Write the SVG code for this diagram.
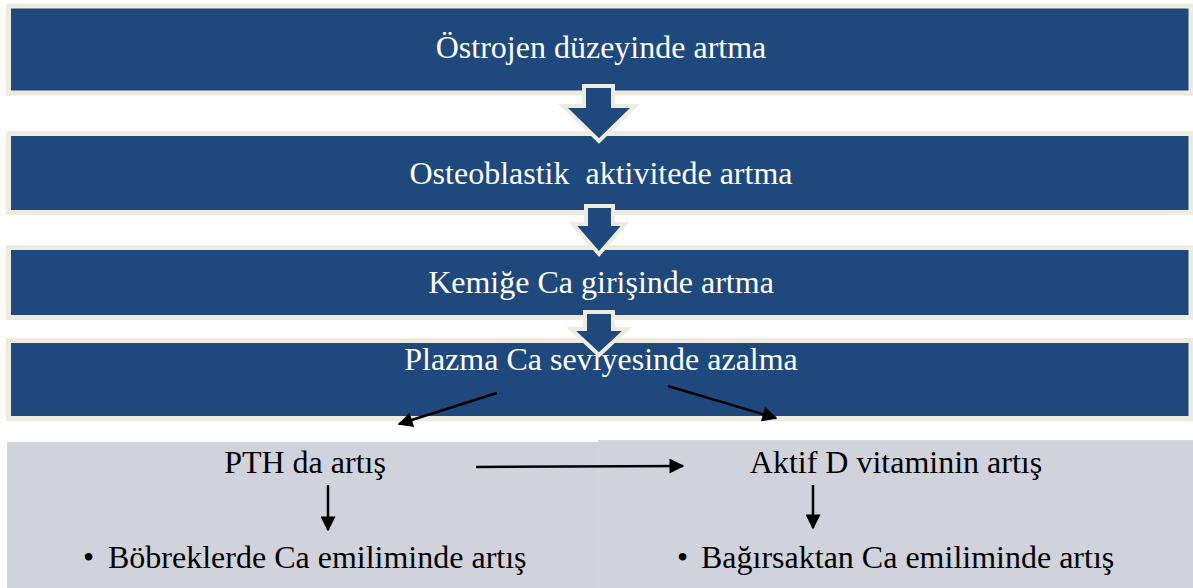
<svg xmlns="http://www.w3.org/2000/svg" width="1193" height="588" viewBox="0 0 1193 588">
<defs>
<style>
.box{fill:#1F497C;stroke:#EEEBE0;stroke-width:5}
.blk{fill:#1F497C;stroke:#EEEBE0;stroke-width:4;stroke-linejoin:miter}
.wt{font-family:"Liberation Serif","Times New Roman",serif;font-size:32px;fill:#FFFFFF;text-anchor:middle;white-space:pre}
.bt{font-family:"Liberation Serif","Times New Roman",serif;font-size:32px;fill:#000000;white-space:pre}
.gray{fill:#D0D3DB;stroke:#D5D7DE;stroke-width:1}
.ln{stroke:#000;stroke-width:2.5;fill:none}
</style>
<marker id="ah" viewBox="0 0 10 10" refX="9" refY="5" markerWidth="6.5" markerHeight="6" markerUnits="strokeWidth" orient="auto">
<path d="M0,0 L10,5 L0,10 Z" fill="#000"/>
</marker>
</defs>
<rect width="1193" height="588" fill="#FFFFFF"/>

<g id="n1"><rect class="box" x="8.5" y="6" width="1182.5" height="87"/>
<text class="wt" x="601" y="58">Östrojen düzeyinde artma</text></g>
<g id="n2"><rect class="box" x="8.5" y="133.5" width="1182.5" height="79"/>
<text class="wt" x="601" y="184">Osteoblastik  aktivitede artma</text></g>
<g id="n3"><rect class="box" x="8.5" y="247.5" width="1182.5" height="70"/>
<text class="wt" x="601" y="293">Kemiğe Ca girişinde artma</text></g>
<g id="n4"><rect class="box" x="8.5" y="340.5" width="1182.5" height="78"/>
<text class="wt" x="601" y="370">Plazma Ca seviyesinde azalma</text></g>

<g id="blockarrows">
<polygon class="blk" points="584,86 613,86 613,106 635,106 599,141 563,106 584,106"/>
<polygon class="blk" points="586,206 613,206 613,224 625,224 599,254 573,224 586,224"/>
<polygon class="blk" points="585,312 613,312 613,329 627,329 599,355 571,329 585,329"/>
</g>

<g id="n5"><rect class="gray" x="7.5" y="442.5" width="591" height="146"/>
<text class="bt" x="305" y="473" text-anchor="middle">PTH da artış</text>
<text class="bt" x="83" y="568">•</text>
<text class="bt" x="108" y="568">Böbreklerde Ca emiliminde artış</text></g>
<g id="n6"><rect class="gray" x="598.5" y="440.5" width="595" height="148"/>
<text class="bt" x="896" y="473" text-anchor="middle">Aktif D vitaminin artış</text>
<text class="bt" x="677" y="568">•</text>
<text class="bt" x="701" y="568">Bağırsaktan Ca emiliminde artış</text></g>

<g id="connectors">
<line class="ln" x1="497" y1="393" x2="399" y2="424" marker-end="url(#ah)"/>
<line class="ln" x1="668" y1="386" x2="776" y2="418" marker-end="url(#ah)"/>
<line class="ln" x1="476" y1="467" x2="683" y2="466" marker-end="url(#ah)"/>
<line class="ln" x1="328" y1="485" x2="328" y2="530" marker-end="url(#ah)"/>
<line class="ln" x1="813" y1="485" x2="813" y2="528" marker-end="url(#ah)"/>
</g>
</svg>
